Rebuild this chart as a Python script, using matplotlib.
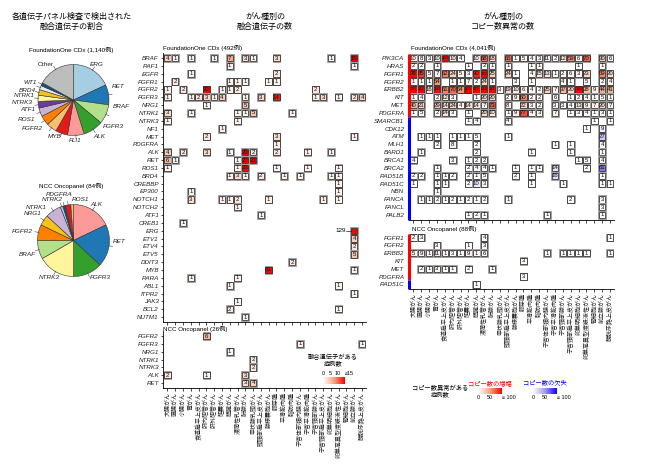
import matplotlib
matplotlib.use("Agg")
import matplotlib.pyplot as plt
from matplotlib.patches import Rectangle
from matplotlib.colors import LinearSegmentedColormap
import numpy as np

plt.rcParams['font.family'] = ['Liberation Sans', 'Noto Sans CJK JP']

W, H = 646, 467

cancer_types = ["大腸がん", "直腸がん", "小腸がん", "胃がん", "食道扁平上皮がん", "肝内胆管がん",
                "肝外胆管がん", "胆嚢がん", "膵臓がん", "浸潤性乳管がん", "肺腺がん", "甲状腺乳頭がん",
                "頭頸部扁平上皮がん", "腺様嚢胞がん", "膠芽腫", "平滑筋肉腫", "脂肪肉腫",
                "子宮体部類内膜がん", "子宮平滑筋肉腫", "子宮頸部腺がん", "子宮頸部扁平上皮がん",
                "卵巣明細胞がん", "卵巣高異型度漿液性がん", "腎細胞がん", "前立腺がん", "膀胱尿路上皮がん"]

# pie: FoundationOne CDx
pie1_genes = ["ERG", "RET", "BRAF", "FGFR3", "ALK", "FLI1", "MYB", "FGFR2", "ROS1", "ATF1",
              "NTRK3", "NTRK1", "BRD4", "WT1", "Other"]
pie1_counts = [206, 104, 101, 104, 86, 63, 54, 51, 44, 35, 32, 29, 22, 16, 193]
# pie: NCC Oncopanel
pie2_genes = ["ALK", "RET", "FGFR3", "NTRK3", "BRAF", "FGFR2", "NRG1", "NTRK1", "NTRK2",
              "PDGFRA", "ROS1", "Other"]
pie2_counts = [15, 16, 11, 14, 7, 6, 4, 6, 1, 1, 2, 1]

# fusions per cancer type (column number -> cases)
f1_fusion_genes = ["BRAF", "RAF1", "EGFR", "FGFR1", "FGFR2", "FGFR3", "NRG1", "NTRK1", "NTRK3", "NF1",
                   "MET", "PDGFRA", "ALK", "RET", "ROS1", "BRD4", "CREBBP", "EP300", "NOTCH1",
                   "NOTCH2", "ATF1", "CREB1", "ERG", "ETV1", "ETV4", "ETV5", "DDIT3", "MYB", "RARA",
                   "ABL1", "ITPR2", "JAK3", "BCL2", "NUTM1"]
f1_fusion = {
    "BRAF": {1: 4, 2: 1, 4: 1, 7: 1, 9: 7, 11: 3, 12: 1, 15: 3, 22: 1, 25: 15},
    "RAF1": {9: 1, 25: 1},
    "EGFR": {4: 1, 15: 2},
    "FGFR1": {2: 2, 9: 1, 10: 1, 11: 1, 14: 1, 15: 1},
    "FGFR2": {1: 1, 3: 2, 6: 20, 8: 1, 9: 1, 10: 2, 20: 2},
    "FGFR3": {1: 1, 4: 1, 5: 2, 6: 3, 7: 1, 8: 4, 11: 1, 13: 3, 15: 14, 20: 1, 21: 3, 23: 1, 25: 2, 26: 4},
    "NRG1": {6: 1, 11: 5},
    "NTRK1": {1: 3, 4: 1, 10: 1, 11: 1, 12: 5, 17: 1},
    "NTRK3": {1: 1, 10: 1},
    "NF1": {8: 1},
    "MET": {6: 2, 15: 3, 25: 1},
    "PDGFRA": {15: 1},
    "ALK": {1: 4, 3: 2, 6: 3, 9: 1, 11: 20, 12: 2, 15: 2, 19: 1, 22: 1},
    "RET": {1: 6, 2: 1, 10: 1, 11: 27, 12: 23},
    "ROS1": {1: 1, 10: 1, 11: 23, 15: 1, 19: 1, 23: 1},
    "BRD4": {9: 1, 10: 3, 11: 1, 13: 2, 16: 1, 18: 1, 22: 1, 23: 1},
    "CREBBP": {23: 1},
    "EP300": {4: 1, 23: 1},
    "NOTCH1": {4: 3, 8: 1, 9: 1, 10: 2, 14: 1, 21: 1, 23: 1},
    "NOTCH2": {10: 1},
    "ATF1": {13: 1},
    "CREB1": {3: 1},
    "ERG": {25: 129},
    "ETV1": {25: 4},
    "ETV4": {25: 2},
    "ETV5": {25: 5},
    "DDIT3": {17: 2},
    "MYB": {14: 31, 25: 1},
    "RARA": {4: 1, 10: 1},
    "ABL1": {9: 1, 23: 1},
    "ITPR2": {25: 1},
    "JAK3": {10: 1},
    "BCL2": {9: 2, 23: 1},
    "NUTM1": {11: 1},
}
ncc_fusion_genes = ["FGFR2", "FGFR3", "NRG1", "NTRK1", "NTRK3", "ALK", "RET"]
ncc_fusion = {
    "FGFR2": {6: 6},
    "FGFR3": {18: 1, 26: 1},
    "NRG1": {9: 1},
    "NTRK1": {12: 2},
    "NTRK3": {12: 2},
    "ALK": {1: 2, 6: 1, 11: 3},
    "RET": {11: 3, 12: 4},
}

# copy number alterations per cancer type
f1_amp_genes = ["PIK3CA", "HRAS", "FGFR1", "FGFR2", "ERBB2", "KIT", "MET", "PDGFRA"]
f1_del_genes = ["SMARCB1", "CDK12", "ATM", "MLH1", "BARD1", "BRCA1", "BRCA2", "RAD51B", "RAD51C",
                "NBN", "FANCA", "FANCL", "PALB2"]
f1_cna = {
    "PIK3CA": {1: 10, 2: 8, 3: 3, 4: 10, 5: 180, 6: 10, 7: 4, 9: 10, 10: 68, 11: 18, 13: 65, 14: 1, 15: 5,
               16: 4, 17: 3, 18: 11, 19: 2, 20: 12, 21: 59, 22: 6, 23: 70, 25: 30, 26: 6},
    "HRAS": {1: 2, 2: 2, 4: 1, 8: 1, 10: 2, 11: 1, 13: 1, 16: 1, 17: 1, 22: 1, 25: 1},
    "FGFR1": {1: 98, 2: 85, 3: 5, 4: 7, 5: 62, 6: 24, 7: 5, 8: 3, 9: 90, 10: 170, 11: 25, 13: 24, 14: 1,
              16: 4, 17: 15, 18: 13, 19: 1, 20: 2, 21: 6, 22: 3, 23: 23, 25: 59, 26: 20},
    "FGFR2": {1: 1, 2: 1, 3: 1, 4: 54, 6: 1, 7: 1, 8: 7, 9: 2, 10: 24, 11: 1, 14: 3, 16: 1, 20: 4, 21: 1,
              23: 5, 25: 2, 26: 4},
    "ERBB2": {1: 136, 2: 142, 3: 16, 4: 180, 5: 61, 6: 70, 7: 54, 8: 100, 9: 113, 10: 214, 11: 112,
              12: 3, 13: 19, 14: 10, 15: 6, 16: 4, 17: 2, 18: 25, 19: 7, 20: 37, 21: 20, 22: 118,
              23: 38, 24: 9, 25: 44, 26: 41},
    "KIT": {1: 1, 2: 4, 4: 2, 5: 12, 6: 3, 9: 1, 10: 20, 11: 20, 13: 2, 14: 9, 15: 60, 16: 2, 17: 2,
            19: 6, 21: 1, 22: 2, 23: 4, 24: 1, 25: 5, 26: 1},
    "MET": {1: 40, 2: 21, 4: 29, 5: 14, 6: 24, 7: 4, 8: 14, 9: 14, 10: 7, 11: 73, 13: 8, 15: 22, 16: 3,
            17: 2, 19: 3, 20: 3, 21: 4, 22: 13, 23: 9, 24: 7, 25: 20, 26: 7},
    "PDGFRA": {1: 1, 2: 5, 4: 2, 5: 14, 6: 3, 8: 1, 10: 20, 11: 10, 13: 1, 14: 9, 15: 77, 16: 4, 17: 3,
               19: 7, 21: 1, 22: 3, 23: 4, 24: 1, 25: 3, 26: 1},
    "SMARCB1": {8: 1, 9: 4, 13: 4, 24: 1, 26: 1},
    "CDK12": {23: 1, 25: 9},
    "ATM": {2: 1, 3: 1, 4: 1, 6: 1, 7: 1, 8: 1, 9: 5, 13: 1, 25: 27},
    "MLH1": {4: 2, 6: 8, 9: 2, 19: 1, 21: 1, 25: 4},
    "BARD1": {2: 1, 9: 2, 16: 1, 21: 1, 25: 1},
    "BRCA1": {1: 4, 6: 3, 8: 1, 9: 2, 10: 2, 22: 1, 23: 5, 25: 4},
    "BRCA2": {4: 1, 8: 2, 9: 4, 10: 4, 11: 1, 14: 1, 16: 1, 17: 1, 19: 14, 23: 2, 25: 61},
    "RAD51B": {1: 2, 2: 2, 4: 1, 5: 1, 6: 2, 8: 2, 9: 1, 10: 5, 14: 2, 16: 1, 19: 16, 25: 1},
    "RAD51C": {1: 1, 4: 1, 5: 1, 8: 2, 9: 10, 10: 3, 16: 1, 20: 1, 25: 1, 26: 1},
    "NBN": {4: 1},
    "FANCA": {2: 1, 3: 1, 4: 2, 5: 1, 6: 2, 7: 1, 8: 2, 9: 1, 10: 2, 13: 1, 21: 2, 25: 3},
    "FANCL": {25: 3},
    "PALB2": {8: 1, 9: 2, 10: 1, 18: 1, 25: 1},
}
ncc_amp_genes = ["FGFR1", "FGFR2", "ERBB2", "KIT", "MET", "PDGFRA"]
ncc_del_genes = ["RAD51C"]
ncc_cna = {
    "FGFR1": {1: 2, 2: 3, 10: 4, 26: 1},
    "FGFR2": {4: 3, 8: 1, 10: 3},
    "ERBB2": {1: 5, 2: 9, 3: 1, 4: 11, 5: 1, 6: 3, 7: 1, 8: 9, 9: 1, 10: 6, 18: 1, 20: 1, 21: 1, 22: 1,
              23: 1, 26: 1},
    "KIT": {15: 3},
    "MET": {2: 2, 3: 1, 4: 3, 5: 1, 6: 1, 8: 2, 11: 1},
    "PDGFRA": {15: 3},
    "RAD51C": {9: 1},
}

# ---- styles ----
pie1_colors = ["#A6CEE3", "#1F78B4", "#B2DF8A", "#33A02C", "#FB9A99", "#E31A1C", "#FDBF6F", "#FF7F00",
               "#CAB2D6", "#6A3D9A", "#FFF59A", "#F7C21A", "#DDEEF8", "#1F4E79", "#BDBDBD"]
pie2_colors = ["#FB9A99", "#1F78B4", "#33A02C", "#FFF59A", "#B2DF8A", "#FF7F00", "#F7C21A", "#CAB2D6",
               "#A6CEE3", "#1F4E79", "#E31A1C", "#FDBF6F"]
pie1_label_xy = {"ERG": (0.46, 1.01, "left"), "RET": (1.08, 0.39, "left"), "BRAF": (1.11, -0.17, "left"),
                 "FGFR3": (0.83, -0.76, "left"), "ALK": (0.55, -1.04, "left"), "FLI1": (0.05, -1.15, "center"),
                 "MYB": (-0.35, -1.04, "right"), "FGFR2": (-0.86, -0.79, "right"), "ROS1": (-1.08, -0.54, "right"),
                 "ATF1": (-1.08, -0.28, "right"), "NTRK3": (-1.14, -0.08, "right"), "NTRK1": (-1.08, 0.14, "right"),
                 "BRD4": (-1.06, 0.28, "right"), "WT1": (-1.03, 0.48, "right"), "Other": (-0.55, 0.99, "right")}
pie2_label_xy = {"ALK": (0.46, 1.01, "left"), "ROS1": (-0.04, 1.13, "left"), "PDGFRA": (-0.04, 1.29, "right"),
                 "NTRK2": (-0.29, 1.13, "right"), "NTRK1": (-0.74, 0.93, "right"), "NRG1": (-0.88, 0.76, "right"),
                 "FGFR2": (-1.13, 0.24, "right"), "BRAF": (-1.04, -0.40, "right"), "NTRK3": (-0.38, -1.04, "right"),
                 "FGFR3": (0.46, -1.04, "left"), "RET": (1.10, -0.04, "left")}

red_cmap = LinearSegmentedColormap.from_list("amp", ["#FFFFFF", "#F4A582", "#FF0000"])
blue_cmap = LinearSegmentedColormap.from_list("del", ["#FFFFFF", "#A59AF5", "#1400FF"])

fig = plt.figure(figsize=(W / 100, H / 100), dpi=100)


def px_axes(x0, x1, y0, y1):
    return fig.add_axes([x0 / W, 1 - y1 / H, (x1 - x0) / W, (y1 - y0) / H])


def px_text(x, y, s, **kw):
    fig.text(x / W, 1 - y / H, s, **kw)


def draw_pie(ax, genes, counts, colors, label_xy):
    ax.pie(counts, colors=colors, startangle=90, counterclock=False, radius=1,
           wedgeprops=dict(edgecolor="#333333", linewidth=0.4))
    ax.set_xlim(-1, 1)
    ax.set_ylim(-1, 1)
    ax.set_aspect("equal")
    ax.axis("off")
    frac = np.array(counts) / np.sum(counts)
    mids = 90 - 360 * (np.cumsum(frac) - frac / 2)
    for g, m in zip(genes, mids):
        if g not in label_xy:
            continue
        lx, ly, ha = label_xy[g]
        t = np.deg2rad(m)
        ax.plot([np.cos(t) * 0.98, np.cos(t) * 1.1], [np.sin(t) * 0.98, np.sin(t) * 1.1],
                color="#444444", lw=0.4, clip_on=False)
        ax.text(lx, ly, g, ha=ha, va="center", fontsize=4.6, color="#222222",
                style="normal" if g == "Other" else "italic")


def draw_heat(ax, genes, table, cmaps, vmax, skip_text=()):
    for r, g in enumerate(genes):
        for c, v in table[g].items():
            ax.add_patch(Rectangle((c - 0.49, r - 0.49), 0.98, 0.98, fc="none", ec="#a0a0a0", lw=0.7))
            ax.add_patch(Rectangle((c - 0.41, r - 0.41), 0.82, 0.82,
                                   fc=cmaps[r](min(v, vmax) / vmax), ec="#222222", lw=0.55))
            if (g, c) in skip_text:
                continue
            fs = 4.3 if v < 100 else 3.0
            ax.text(c, r, str(v), ha="center", va="center", fontsize=fs, color="#111111")
    ax.set_xlim(0.4, len(cancer_types) + 0.5)
    ax.set_ylim(len(genes) - 0.4, -0.6)
    ax.set_yticks(range(len(genes)))
    ax.set_yticklabels(genes, style="italic", fontsize=4.5, color="#222222")
    ax.set_xticks(range(1, len(cancer_types) + 1))
    ax.spines["top"].set_visible(False)
    ax.spines["right"].set_visible(False)
    for s in ("left", "bottom"):
        ax.spines[s].set_linewidth(0.6)
    ax.tick_params(length=1.8, width=0.5, pad=1)


# ---- titles ----
px_text(72, 22, "各遺伝子パネル検査で検出された\n融合遺伝子の割合", ha="center", va="center", fontsize=5.8, linespacing=1.35)
px_text(265, 22, "がん種別の\n融合遺伝子の数", ha="center", va="center", fontsize=5.8, linespacing=1.35)
px_text(503, 22, "がん種別の\nコピー数異常の数", ha="center", va="center", fontsize=5.8, linespacing=1.35)

# ---- pies ----
px_text(71, 50, "FoundationOne CDx (1,140例)", ha="center", va="center", fontsize=4.5)
draw_pie(px_axes(38, 109, 64.5, 135.5), pie1_genes, pie1_counts, pie1_colors, pie1_label_xy)
px_text(71, 186, "NCC Oncopanel (84例)", ha="center", va="center", fontsize=4.5)
draw_pie(px_axes(37.5, 109.5, 204.5, 276.5), pie2_genes, pie2_counts, pie2_colors, pie2_label_xy)

# ---- fusion heatmaps ----
px_text(163, 48, "FoundationOne CDx (492例)", ha="left", va="center", fontsize=4.5)
ax_f1 = px_axes(162.8, 365.9, 53.3, 321.8)
draw_heat(ax_f1, f1_fusion_genes, f1_fusion, [red_cmap] * len(f1_fusion_genes), 15,
          skip_text={("ERG", 25)})
ax_f1.tick_params(axis="x", labelbottom=False)
erg_row = f1_fusion_genes.index("ERG")
ax_f1.text(23.95, erg_row, str(f1_fusion["ERG"][25]), ha="right", va="center", fontsize=4.5)
ax_f1.plot([24.0, 24.55], [erg_row, erg_row], color="#222222", lw=0.5)

px_text(163, 329, "NCC Oncopanel (26例)", ha="left", va="center", fontsize=4.5)
ax_fn = px_axes(162.8, 365.9, 331.3, 387.7)
draw_heat(ax_fn, ncc_fusion_genes, ncc_fusion, [red_cmap] * len(ncc_fusion_genes), 15)
ax_fn.set_xticklabels(cancer_types, rotation=90, fontsize=4.3, color="#222222")

# fusion legend
px_text(333, 360, "融合遺伝子がある\n症例数", ha="center", va="center", fontsize=4.5, linespacing=1.1)
cb1 = px_axes(323, 345, 377, 384)
cb1.imshow(np.linspace(0, 15, 100)[None, :], cmap=red_cmap, aspect="auto", extent=(0, 15, 0, 1))
cb1.set_yticks([])
cb1.set_xticks([0, 5, 10, 15])
cb1.set_xticklabels(["0", "5", "10", "≥15"], fontsize=3.9)
cb1.tick_params(axis="x", top=True, labeltop=True, bottom=False, labelbottom=False, length=0, pad=1)
cb1.get_xticklabels()[-1].set_ha("left")
cb1.get_xticklabels()[-1].set_x(14.0)
for s in cb1.spines.values():
    s.set_visible(False)

# ---- copy number heatmaps ----
px_text(411, 48, "FoundationOne CDx (4,041例)", ha="left", va="center", fontsize=4.5)
ax_c1 = px_axes(408.6, 614, 53.3, 219.7)
f1_cna_genes = f1_amp_genes + f1_del_genes
draw_heat(ax_c1, f1_cna_genes, f1_cna,
          [red_cmap] * len(f1_amp_genes) + [blue_cmap] * len(f1_del_genes), 100)
ax_c1.tick_params(axis="x", labelbottom=False)
ax_c1.tick_params(axis="y", length=0, pad=3)
ax_c1.spines["left"].set_visible(False)
ax_c1.plot([0.4, 0.4], [-0.5, len(f1_amp_genes) - 0.5], color="#FF0000", lw=2.2, clip_on=False,
           solid_capstyle="butt")
ax_c1.plot([0.4, 0.4], [len(f1_amp_genes) - 0.5, len(f1_cna_genes) - 0.4], color="#0000FF", lw=2.2,
           clip_on=False, solid_capstyle="butt")

px_text(412, 229, "NCC Oncopanel (88例)", ha="left", va="center", fontsize=4.5)
ax_cn = px_axes(408.6, 614, 233, 289)
ncc_cna_genes = ncc_amp_genes + ncc_del_genes
draw_heat(ax_cn, ncc_cna_genes, ncc_cna,
          [red_cmap] * len(ncc_amp_genes) + [blue_cmap] * len(ncc_del_genes), 100)
ax_cn.set_xticklabels(cancer_types, rotation=90, fontsize=4.3, color="#222222")
ax_cn.tick_params(axis="y", length=0, pad=3)
ax_cn.spines["left"].set_visible(False)
ax_cn.plot([0.4, 0.4], [-0.5, len(ncc_amp_genes) - 0.5], color="#FF0000", lw=2.2, clip_on=False,
           solid_capstyle="butt")
ax_cn.plot([0.4, 0.4], [len(ncc_amp_genes) - 0.5, len(ncc_cna_genes) - 0.4], color="#0000FF", lw=2.2,
           clip_on=False, solid_capstyle="butt")

# copy number legend
px_text(440, 391, "コピー数異常がある\n症例数", ha="center", va="center", fontsize=4.5, linespacing=1.1)
px_text(490, 383, "コピー数の増幅", ha="center", va="center", fontsize=4.5, color="#FF0000")
px_text(545, 383, "コピー数の欠失", ha="center", va="center", fontsize=4.5, color="#0000FF")
for (x0, x1), cm in [((478, 502), red_cmap), ((533, 557), blue_cmap)]:
    cb = px_axes(x0, x1, 388, 394)
    cb.imshow(np.linspace(0, 100, 100)[None, :], cmap=cm, aspect="auto", extent=(0, 100, 0, 1))
    cb.set_yticks([])
    cb.set_xticks([0, 50, 100])
    cb.set_xticklabels(["0", "50", "≥ 100"], fontsize=3.9)
    cb.tick_params(axis="x", length=0, pad=1)
    cb.get_xticklabels()[-1].set_ha("left")
    cb.get_xticklabels()[-1].set_x(88)
    for s in cb.spines.values():
        s.set_visible(False)

fig.savefig("out.png", dpi=100)
